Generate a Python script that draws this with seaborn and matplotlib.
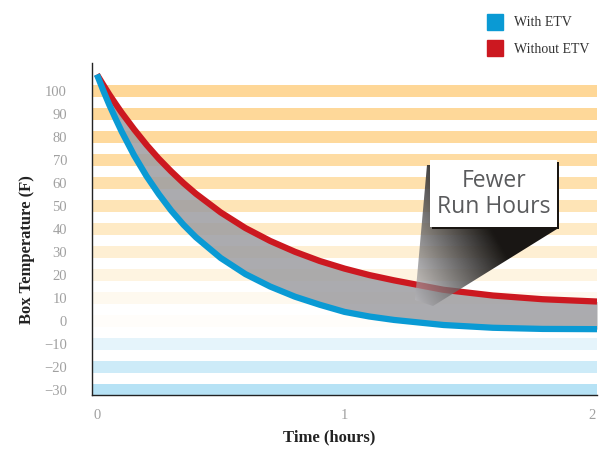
import numpy as np
import pandas as pd
import seaborn as sns
import matplotlib.pyplot as plt
from matplotlib.patches import Polygon, Rectangle
from matplotlib.lines import Line2D

# values
hours = [0, 0.025, 0.05, 0.075, 0.1, 0.15, 0.2, 0.25, 0.3, 0.35, 0.4, 0.5, 0.6, 0.7, 0.8, 0.9,
         1.0, 1.1, 1.2, 1.4, 1.6, 1.8, 2.02]
with_etv = [107, 100.2, 93.8, 87.9, 82.2, 71.9, 62.9, 55, 47.9, 41.7, 36.3, 27.3, 20.3, 14.9,
            10.5, 7.0, 3.9, 1.9, 0.4, -1.8, -3, -3.5, -3.6]
without_etv = [107, 102.6, 98.3, 94.3, 90.4, 83.2, 76.5, 70.4, 64.9, 59.8, 55.2, 47.1, 40.3,
               34.7, 30.0, 26.0, 22.7, 19.9, 17.6, 13.5, 11.0, 9.4, 8.4]

temp_ticks = [100, 90, 80, 70, 60, 50, 40, 30, 20, 10, 0, -10, -20, -30]
band_colors = ['#fed797', '#fed899', '#fed99c', '#fedca3', '#fee0ac', '#fee4b6', '#feeac5',
               '#feefd3', '#fef4e1', '#fef9ef', '#fffdfa', '#e5f4fb', '#cdebf8', '#b6e2f5']
hour_ticks = [0, 1, 2]

df = pd.DataFrame({'hours': hours, 'with': with_etv, 'without': without_etv})

sns.set_theme(style='white')
plt.rcParams['font.family'] = ['Liberation Serif', 'DejaVu Serif']

fig = plt.figure(figsize=(6.03, 4.5), dpi=100)
ax = fig.add_axes([92 / 603, 1 - 395 / 450, 505 / 603, 332 / 450])

xlim = (-0.02, 2.02)
ylim = (-32.2, 112)

# horizontal colour bands
for v, c in zip(temp_ticks, band_colors):
    ax.axhspan(v - 2.6, v + 2.6, color=c, lw=0, zorder=0)

ax.fill_between(df['hours'], df['with'], df['without'], color='#9d9da1', alpha=0.85, lw=0, zorder=1)
sns.lineplot(data=df, x='hours', y='without', ax=ax, color='#cc1820', lw=4.5, zorder=3,
             solid_joinstyle='round', solid_capstyle='butt')
sns.lineplot(data=df, x='hours', y='with', ax=ax, color='#0a9ad4', lw=4.5, zorder=4,
             solid_joinstyle='round', solid_capstyle='butt')

ax.set_xlim(*xlim)
ax.set_ylim(*ylim)


# pixel -> data helper for the callout
def px2data(px, py):
    fx = (px - 92) / 505
    fy = (395 - py) / 332
    return xlim[0] + fx * (xlim[1] - xlim[0]), ylim[0] + fy * (ylim[1] - ylim[0])


# gradient pointer of the callout
poly_px = [(427, 165), (415, 300), (433, 306), (557, 229), (557, 165)]
poly = Polygon([px2data(*p) for p in poly_px], closed=True, facecolor='none', edgecolor='none',
               transform=ax.transData)
ax.add_patch(poly)
gx = np.linspace(410, 562, 160)
gy = np.linspace(160, 310, 160)
GX, GY = np.meshgrid(gx, gy)
s = ((GX - 415) * 0.87 - (GY - 300) * 0.49) / 100
s = np.clip(s, 0, 1) ** 0.75
dark = np.array([0.10, 0.09, 0.08])
light = np.array([0.72, 0.72, 0.74])
img = np.zeros((160, 160, 4))
for k in range(3):
    img[..., k] = light[k] * (1 - s) + dark[k] * s
img[..., 3] = 0.6 + 0.4 * s
x0, y0 = px2data(410, 310)
x1, y1 = px2data(562, 160)
im = ax.imshow(img, extent=[x0, x1, y0, y1], origin='upper', aspect='auto', zorder=5,
               interpolation='bilinear')
im.set_clip_path(poly)

# callout box with shadow
bx0, by0 = px2data(430, 227)
bx1, by1 = px2data(557, 160)
sx, sy = px2data(432, 229)
ax.add_patch(Rectangle((sx, sy), bx1 - bx0, by1 - by0, facecolor='#1a1612', lw=0, zorder=6))
ax.add_patch(Rectangle((bx0, by0), bx1 - bx0, by1 - by0, facecolor='white', lw=0, zorder=7))
tx, ty = px2data(494, 194)
ax.text(tx, ty, 'Fewer\nRun Hours', ha='center', va='center', fontsize=16.5, color='#5a5b5d',
        family=['Open Sans', 'DejaVu Sans'], linespacing=1.15, zorder=8)

ax.set_xlim(*xlim)
ax.set_ylim(*ylim)

# axes styling
for side in ['top', 'right']:
    ax.spines[side].set_visible(False)
for side in ['left', 'bottom']:
    ax.spines[side].set_color('#222222')
    ax.spines[side].set_linewidth(1.0)
ax.set_yticks(temp_ticks)
ax.set_xticks(hour_ticks)
ax.tick_params(axis='y', length=0, pad=18, labelsize=10.5, labelcolor='#a0a0a0')
ax.tick_params(axis='x', length=0, pad=10, labelsize=10.5, labelcolor='#a0a0a0')
ax.set_xlabel('Time (hours)', fontsize=12, fontweight='bold', color='#222222')
ax.set_ylabel('Box Temperature (F)', fontsize=12, fontweight='bold', color='#222222')
ax.xaxis.set_label_coords(0.469, -0.105)
ax.yaxis.set_label_coords(-0.113, 0.437)

handles = [Line2D([], [], marker='s', ls='none', markersize=11, color='#0a9ad4', label='With ETV'),
           Line2D([], [], marker='s', ls='none', markersize=11, color='#cc1820', label='Without ETV')]
fig.legend(handles=handles, loc='upper left', bbox_to_anchor=(476 / 603, 1 - 4 / 450), frameon=False,
           fontsize=10, labelcolor='#333333', handletextpad=0.85, labelspacing=0.95,
           handlelength=1.0)

fig.savefig('out.png', dpi=100)
